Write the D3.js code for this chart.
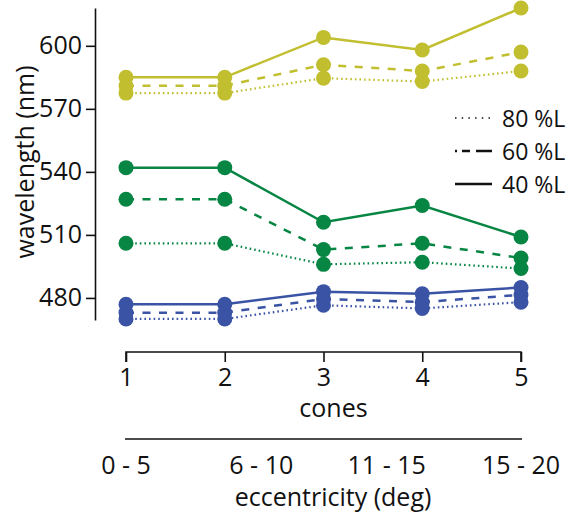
<!DOCTYPE html>
<html>
<head>
<meta charset="utf-8">
<script src="https://cdn.jsdelivr.net/npm/d3@7"></script>
<style>
  html, body { margin: 0; padding: 0; background: #fff; }
  svg text { font-family: "Open Sans", "Noto Sans", sans-serif; fill: #111; }
</style>
</head>
<body>
<svg id="chart" width="576" height="520"></svg>
<script>
// ---- data ----
const cones = [1, 2, 3, 4, 5];
const eccLabels = ["0 - 5", "6 - 10", "11 - 15", "15 - 20"];
const eccAnchors = [1, 2.37, 3.64, 5]; // where each eccentricity label sits along the cone axis
const yTicks = [480, 510, 540, 570, 600];
const lightnessLevels = ["80 %L", "60 %L", "40 %L"];

const yellow40 = [585, 585, 604, 598, 618];
const yellow60 = [581, 581, 591, 588, 597];
const yellow80 = [577.5, 577.5, 584.6, 583, 588];
const green40 = [542, 542, 516, 524, 509];
const green60 = [527, 527, 503, 506, 499];
const green80 = [506, 506, 496, 497, 494];
const blue40 = [477, 477, 483, 482, 485];
const blue60 = [473, 473, 479.5, 478, 481.5];
const blue80 = [470, 470, 476.5, 475, 478];

// ---- styles ----
const colors = { yellow: "#c1bf2f", green: "#078543", blue: "#3a53a4" };
const dash = { "80 %L": "1.6,3", "60 %L": "8,8.5", "40 %L": null };
const FS = 25;

const series = [
  { color: colors.yellow, level: "40 %L", values: yellow40 },
  { color: colors.yellow, level: "60 %L", values: yellow60 },
  { color: colors.yellow, level: "80 %L", values: yellow80 },
  { color: colors.green, level: "40 %L", values: green40 },
  { color: colors.green, level: "60 %L", values: green60 },
  { color: colors.green, level: "80 %L", values: green80 },
  { color: colors.blue, level: "40 %L", values: blue40 },
  { color: colors.blue, level: "60 %L", values: blue60 },
  { color: colors.blue, level: "80 %L", values: blue80 }
];

const svg = d3.select("#chart");

const x = d3.scaleLinear().domain([1, 5]).range([126, 521]);
const y = d3.scaleLinear().domain([469.5, 618]).range([320, 8]);

// y axis
const yAxis = svg.append("g")
  .attr("transform", "translate(95,0)")
  .call(d3.axisLeft(y).tickValues(yTicks).tickSize(9).tickSizeOuter(0).tickPadding(4));
yAxis.selectAll("path, line").attr("stroke", "#111").attr("stroke-width", 1.6);
yAxis.selectAll("text").attr("font-size", FS).style("font-family", "'Open Sans', sans-serif").attr("fill", "#111");

svg.append("text")
  .attr("transform", "translate(24,162) rotate(-90)")
  .attr("text-anchor", "middle")
  .attr("dominant-baseline", "central")
  .attr("font-size", FS)
  .text("wavelength (nm)");

// x axis (cones)
const xAxis = svg.append("g")
  .attr("transform", "translate(0,352)")
  .call(d3.axisBottom(x).tickValues(cones).tickFormat(d3.format("d")).tickSize(10).tickSizeOuter(10).tickPadding(6));
xAxis.selectAll("path, line").attr("stroke", "#111").attr("stroke-width", 1.6);
xAxis.select("path.domain").attr("d", `M${x(1)},10V0H${x(5)}V10`);
xAxis.selectAll("text").attr("font-size", FS).style("font-family", "'Open Sans', sans-serif").attr("fill", "#111");

svg.append("text")
  .attr("x", x(3) + 10).attr("y", 407)
  .attr("text-anchor", "middle").attr("dominant-baseline", "central")
  .attr("font-size", FS)
  .text("cones");

// eccentricity axis
svg.append("line")
  .attr("x1", x(1) - 1).attr("x2", x(5) + 1)
  .attr("y1", 439).attr("y2", 439)
  .attr("stroke", "#111").attr("stroke-width", 1.6);

svg.append("g").selectAll("text")
  .data(eccLabels)
  .join("text")
  .attr("x", (d, i) => x(eccAnchors[i]))
  .attr("y", 464)
  .attr("text-anchor", "middle").attr("dominant-baseline", "central")
  .attr("font-size", FS)
  .text(d => d);

svg.append("text")
  .attr("x", 333).attr("y", 496)
  .attr("text-anchor", "middle").attr("dominant-baseline", "central")
  .attr("font-size", FS)
  .text("eccentricity (deg)");

// lines & points
const line = d3.line().x((d, i) => x(cones[i])).y(d => y(d));
const g = svg.append("g");
series.forEach(s => {
  g.append("path")
    .attr("d", line(s.values))
    .attr("fill", "none")
    .attr("stroke", s.color)
    .attr("stroke-width", s.level === "80 %L" ? 2.2 : 2.5)
    .attr("stroke-dasharray", dash[s.level]);
});
series.forEach(s => {
  g.selectAll(null)
    .data(s.values)
    .join("circle")
    .attr("cx", (d, i) => x(cones[i]))
    .attr("cy", d => y(d))
    .attr("r", 7.5)
    .attr("fill", s.color);
});

// legend
const legend = svg.append("g");
lightnessLevels.forEach((lv, i) => {
  const ly = 118 + i * 33;
  legend.append("line")
    .attr("x1", 455).attr("x2", 492)
    .attr("y1", ly).attr("y2", ly)
    .attr("stroke", "#111")
    .attr("stroke-width", lv === "80 %L" ? 1.5 : 2.4)
    .attr("stroke-dasharray", lv === "80 %L" ? "1.5,5.2" : (lv === "60 %L" ? "2,5,8,6,20" : null));
  legend.append("text")
    .attr("x", 502).attr("y", ly)
    .attr("dominant-baseline", "central")
    .attr("font-size", 23)
    .text(lv);
});
</script>
</body>
</html>
